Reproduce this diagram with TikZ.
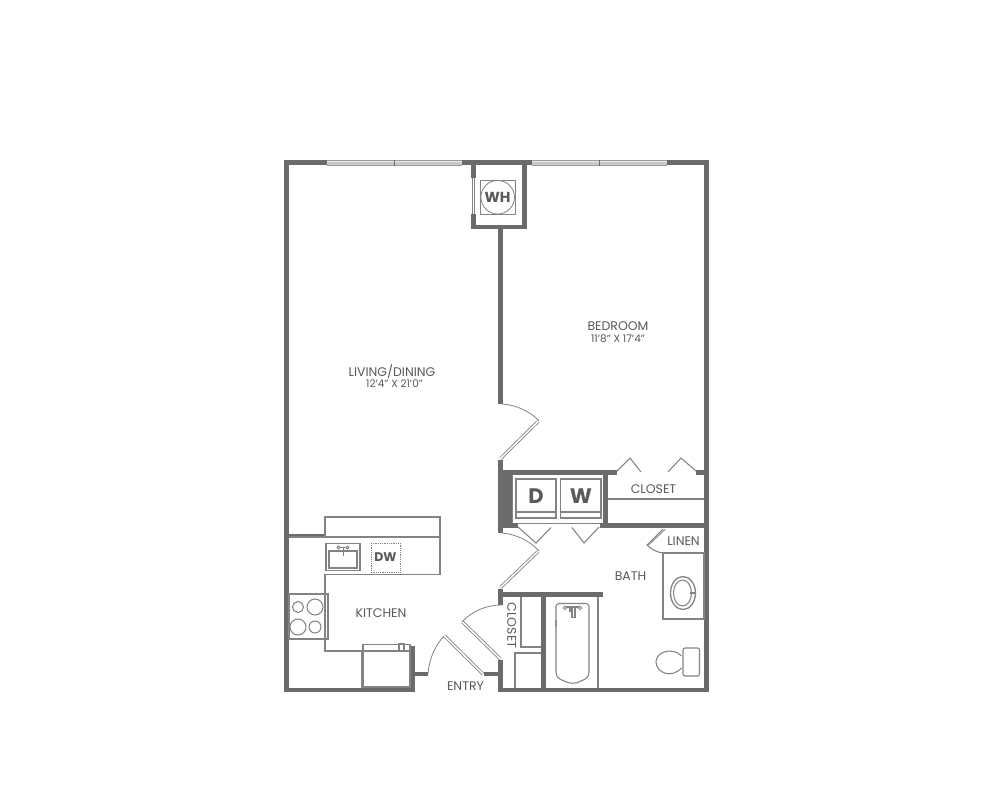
\documentclass[tikz,border=0pt]{standalone}
\usepackage{fontspec}
\setmainfont{Poppins}
\definecolor{wallc}{HTML}{6A6B6D}
\definecolor{linec}{HTML}{828385}
\definecolor{textc}{HTML}{58595B}
\definecolor{glass}{HTML}{C8C9CA}
\tikzset{
  wall/.style={fill=wallc,draw=none},
  thin line/.style={draw=linec,line width=1.05pt},
  fine line/.style={draw=linec,line width=.8pt},
  room/.style={text=textc,font=\fontsize{12.5}{14}\selectfont,inner sep=0pt,yshift=-.8pt},
  dims/.style={text=textc,font=\fontsize{10.5}{12}\selectfont,inner sep=0pt,yshift=-.5pt},
  appl/.style={text=textc,font=\bfseries\fontsize{12.5}{14}\selectfont,inner sep=0pt},
  big/.style={text=textc,font=\bfseries\fontsize{21}{24}\selectfont,inner sep=0pt},
  leaf/.style={draw=linec,line width=3.2pt,line cap=butt},
  leafin/.style={draw=white,line width=1.5pt,line cap=butt},
}
\newcommand{\doorleaf}[2]{\draw[leaf] #1 -- #2; \draw[leafin] #1 -- #2;}
\newcommand{\glasspane}[2]{%
  \fill[glass] (#1,160) rectangle (#2,165.5);
  \draw[draw=linec!80,line width=.6pt] (#1,160.2) -- (#2,160.2) (#1,165.2) -- (#2,165.2);
  \fill[white!60!glass] (#1,161) rectangle (#2,162.2);
}
\begin{document}
\begin{tikzpicture}[x=1pt,y=-1pt]
\useasboundingbox (0,0) rectangle (1000,788);
\fill[white] (0,0) rectangle (1000,788);
% windows
\glasspane{327}{462}
\glasspane{532}{667}
\fill[wallc] (393.7,160) rectangle (394.7,165.5);
\fill[wallc] (598.7,160) rectangle (599.7,165.5);
% outer walls
\fill[wall] (284,160) rectangle (289,692);
\fill[wall] (284,160) rectangle (327,165);
\fill[wall] (462,160) rectangle (532,165);
\fill[wall] (667,160) rectangle (708,165);
\fill[wall] (703.5,160) rectangle (708.5,692);
\fill[wall] (284,687.5) rectangle (415,692);
\fill[wall] (498,687.5) rectangle (708.5,692);
% WH closet
\fill[wall] (471,165) rectangle (475.5,178);
\fill[wall] (471,214) rectangle (475.5,229);
\fill[wall] (471,225) rectangle (526.5,229);
\fill[wall] (522,165) rectangle (526.5,229);
\draw[fine line] (472,178) -- (472,214) (474.5,178) -- (474.5,214);
\draw[fine line] (480.5,180.5) rectangle (515,214);
\draw[fine line] (497.7,197.2) circle (16.8);
\node[appl,font=\bfseries\fontsize{14.5}{16}\selectfont] (wh) at (497.5,197.5) {WH};
% partition
\fill[wall] (498,229) rectangle (502.5,404);
\fill[wall] (498,460) rectangle (502.5,533);
\fill[wall] (498,470) rectangle (512,523);
\fill[wall] (498,470) rectangle (617,474.5);
\fill[wall] (696,470) rectangle (704,474.5);
\fill[wall] (603,474) rectangle (608,528);
\fill[wall] (600,523) rectangle (704,528);
\fill[wall] (498,523) rectangle (518,528);
\fill[wall] (498,589) rectangle (502.5,605);
\fill[wall] (498,592) rectangle (603,597);
\fill[wall] (498,660) rectangle (502.5,692);
\fill[wall] (484,672) rectangle (498,676);
\fill[wall] (415,672) rectangle (428,676);
\fill[wall] (411,646) rectangle (415,692);
\fill[wall] (289,534) rectangle (325,538);
\fill[wall] (541,597) rectangle (545.5,688);
% bedroom door
\draw[fine line] (502,404) .. controls (516,405) and (530,411) .. (539,421);
\doorleaf{(538,421.5)}{(500.5,458.5)}
% laundry
\draw[fine line] (512.5,474.5) -- (512.5,523);
\draw[fine line] (518,523) -- (600,523);
\draw[thin line] (516,479) rectangle (556,518);
\draw[thin line] (516,512) -- (556,512);
\draw[thin line] (560.5,479) rectangle (601,518);
\draw[thin line] (560.5,512) -- (601,512);
\node[big] (d) at (536,496.5) {D};
\node[big] (w) at (581,496.5) {W};
\draw[thin line] (518,527) -- (536,543) -- (551,527.5);
\draw[thin line] (572,527.5) -- (584,543) -- (599,527);
% bedroom closet
\draw[thin line] (617,471) -- (630,458) -- (641,472);
\draw[thin line] (668,472) -- (681,458) -- (696,471);
\draw[thin line] (608,499) -- (704,499);
\node[room] (closet1) at (653.5,488.5) {CLOSET};
% bath door
\draw[fine line] (502,533) .. controls (516,534) and (530,541) .. (539,551);
\doorleaf{(538,551.5)}{(500.5,587.5)}
% closet door
\draw[fine line] (502,605) .. controls (486,605) and (472,611) .. (462,622);
\doorleaf{(462.5,622)}{(500.5,659)}
% entry door
\draw[fine line] (428,674) .. controls (429,659) and (435,646) .. (444,636);
\doorleaf{(444.5,636)}{(483,674)}
% closet shelves
\draw[thin line] (521,597) -- (521,647) -- (541,647);
\draw[thin line] (515,688) -- (515,653) -- (541,653);
\node[room,rotate=-90,yshift=.8pt,xshift=.8pt] (closet2) at (511,624) {CLOSET};
% kitchen
\draw[thin line] (325,537) -- (325,517) -- (440,517) -- (440,574.5) -- (325,574.5) -- (325,651) -- (362,651);
\draw[thin line] (289,537) -- (440,537);
\draw[thin line] (326,543.5) rectangle (360,570.5);
\draw[line width=1.4pt,draw=linec] (329,551) rectangle (357,568);
\draw[fine line] (343,548) -- (343,556);
\draw[fine line] (339,547.5) -- (347,547.5);
\draw[fine line] (338.5,547.5) circle (1.5) (347.5,547.5) circle (1.5);
\draw[fine line,densely dotted] (371,543) rectangle (400,572);
\node[appl] (dw) at (385.5,557) {DW};
\draw[thin line] (289,594) rectangle (328,639);
\draw[thin line] (298,607) circle (5.5) (315,607) circle (8) (298,627) circle (8) (315,627) circle (6);
\node[room] (kitchen) at (381,612.5) {KITCHEN};
% refrigerator
\draw[thin line] (363,644.5) rectangle (410,687);
\draw[thin line] (363,651) -- (410,651);
\draw[fine line] (361.5,651) -- (361.5,688);
\draw[thin line] (399,643.5) rectangle (404,651);
% bath
\draw[thin line] (598,597) -- (598,688);
\draw[thin line,rounded corners=3pt] (556,627) -- (556,603.5) -- (589,603.5) -- (589,672);
\draw[thin line] (556,620) -- (556,672) .. controls (556,677) and (559,679) .. (564,681) .. controls (570,684) and (576,684) .. (581,681) .. controls (586,679) and (589,677) .. (589,672);
\draw[thin line] (566,607) -- (579,607) (570,608) -- (570,612) (575,608) -- (575,617.5) -- (572,617.5) -- (572,608);
\draw[fine line] (565,608) circle (1.8) (580,608) circle (1.8);
\draw[thin line] (663,553) rectangle (704,619);
\draw[line width=1.3pt,draw=linec] (683,593) ellipse (12.5 and 16.5);
\draw[thin line] (682.5,593) ellipse (9 and 13);
\draw[thin line] (690,593) -- (696,593);
\draw[thin line] (681.5,656) .. controls (677,651) and (670,650) .. (664,652) .. controls (658,654) and (656,659) .. (656,662) .. controls (656,667) and (660,672) .. (666,673.5) .. controls (671,674.5) and (677,673) .. (681.5,668);
\draw[thin line,rounded corners=2pt] (683,648) rectangle (699.5,676);
\draw[thin line] (663,529) -- (647,545) .. controls (652,550) and (658,552.5) .. (663,553);
\draw[fine line] (665,529.5) -- (648.5,545);
\node[room] (linen) at (683.5,540.5) {LINEN};
\node[room] (bath) at (630.5,575) {BATH};
\node[room] (entry) at (465.5,685.5) {ENTRY};
% big rooms
\node[room] (living) at (392,370.5) {LIVING/DINING};
\node[dims] (livingd) at (394.5,383) {12’4” X 21’0”};
\node[room] (bedroom) at (618,325.5) {BEDROOM};
\node[dims] (bedroomd) at (618,338) {11’8” X 17’4”};
\end{tikzpicture}
\end{document}
